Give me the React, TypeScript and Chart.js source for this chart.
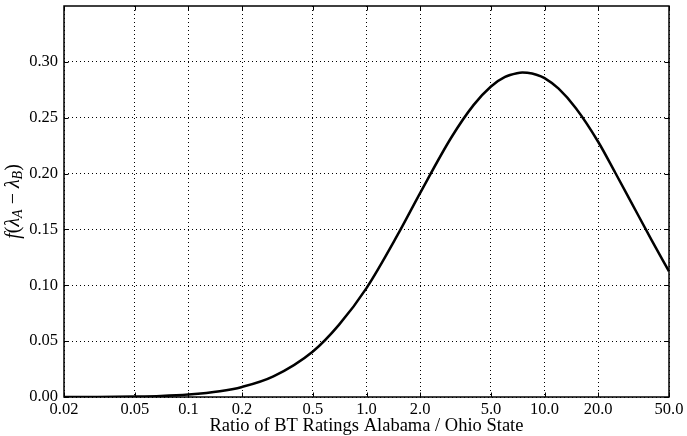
import React, { useEffect, useRef } from "react";
import { Chart, registerables } from "chart.js";

Chart.register(...registerables);

const ratioValues = [0.02, 0.03, 0.05, 0.07, 0.1, 0.15, 0.2, 0.3, 0.5, 0.7, 1.0, 1.5, 2.0, 3.0, 4.0, 5.0, 6.0, 7.0, 7.5, 8.0, 9.0, 10.0, 12.0, 15.0, 20.0, 25.0, 30.0, 40.0, 50.0];
const densityValues = [0.00003, 0.0001, 0.0004, 0.0009, 0.0022, 0.0051, 0.009, 0.0185, 0.0408, 0.0646, 0.0975, 0.1455, 0.1825, 0.2325, 0.2615, 0.278, 0.2865, 0.2898, 0.2904, 0.2902, 0.2885, 0.2855, 0.276, 0.2585, 0.2285, 0.2005, 0.1772, 0.1402, 0.1125];

const xTickValues = [0.02, 0.05, 0.1, 0.2, 0.5, 1.0, 2.0, 5.0, 10.0, 20.0, 50.0];
const xTickLabels = ["0.02", "0.05", "0.1", "0.2", "0.5", "1.0", "2.0", "5.0", "10.0", "20.0", "50.0"];
const yTickValues = [0.0, 0.05, 0.1, 0.15, 0.2, 0.25, 0.3];
const yTickLabels = ["0.00", "0.05", "0.10", "0.15", "0.20", "0.25", "0.30"];

const xTitle = "Ratio of BT Ratings Alabama / Ohio State";

const FONT = "'Liberation Serif', 'DejaVu Serif', serif";

const framePlugin = {
  id: "framePlugin",
  afterDraw(chart: any) {
    const { ctx, chartArea } = chart;
    const { left, right, top, bottom } = chartArea;
    const xs = chart.scales.x;
    const ys = chart.scales.y;
    ctx.save();
    ctx.strokeStyle = "#000";
    ctx.lineWidth = 1;
    const tl = 4.5;
    ctx.beginPath();
    xTickValues.forEach((v) => {
      const px = Math.round(xs.getPixelForValue(v)) + 0.5;
      ctx.moveTo(px, bottom);
      ctx.lineTo(px, bottom - tl);
      ctx.moveTo(px, top);
      ctx.lineTo(px, top + tl);
    });
    yTickValues.forEach((v) => {
      const py = Math.round(ys.getPixelForValue(v)) + 0.5;
      ctx.moveTo(left, py);
      ctx.lineTo(left + tl, py);
      ctx.moveTo(right, py);
      ctx.lineTo(right - tl, py);
    });
    ctx.stroke();
    ctx.lineWidth = 1.5;
    ctx.strokeRect(left, top, right - left, bottom - top);

    // y axis label
    const segs = [
      { t: "f", it: true, sub: false },
      { t: "(", it: false, sub: false },
      { t: "λ", it: true, sub: false },
      { t: "A", it: true, sub: true },
      { t: " − ", it: false, sub: false },
      { t: "λ", it: true, sub: false },
      { t: "B", it: true, sub: true },
      { t: ")", it: false, sub: false },
    ];
    const size = 20;
    const subSize = 14;
    const fontFor = (s: any) => `${s.it ? "italic " : ""}${s.sub ? subSize : size}px ${FONT}`;
    let total = 0;
    const widths = segs.map((s) => {
      ctx.font = fontFor(s);
      const w = ctx.measureText(s.t).width;
      total += w;
      return w;
    });
    const cy = (top + bottom) / 2;
    ctx.translate(19, cy);
    ctx.rotate(-Math.PI / 2);
    ctx.fillStyle = "#000";
    ctx.textBaseline = "alphabetic";
    ctx.textAlign = "left";
    let x = -total / 2;
    segs.forEach((s, i) => {
      ctx.font = fontFor(s);
      ctx.fillText(s.t, x, s.sub ? 3 : 0);
      x += widths[i];
    });
    ctx.restore();
  },
};

export default function App() {
  const ref = useRef<HTMLCanvasElement | null>(null);
  useEffect(() => {
    document.body.style.margin = "0";
    const canvas = ref.current;
    if (!canvas) return;
    const chart = new Chart(canvas, {
      type: "line",
      data: {
        datasets: [
          {
            data: ratioValues.map((x, i) => ({ x, y: densityValues[i] })),
            borderColor: "#000",
            borderWidth: 2.5,
            pointRadius: 0,
            fill: false,
            cubicInterpolationMode: "monotone",
          },
        ],
      },
      options: {
        animation: false,
        responsive: false,
        devicePixelRatio: 1,
        layout: { padding: { top: 6, right: 18, left: 0, bottom: 0 } },
        plugins: { legend: { display: false }, tooltip: { enabled: false } },
        scales: {
          x: {
            type: "logarithmic",
            min: 0.02,
            max: 50,
            afterBuildTicks: (scale: any) => {
              scale.ticks = xTickValues.map((v) => ({ value: v }));
            },
            afterFit: (scale: any) => {
              scale.height = 39;
              scale.paddingLeft = 0;
              scale.paddingRight = 0;
            },
            ticks: {
              autoSkip: false,
              maxRotation: 0,
              padding: 3,
              color: "#000",
              font: { family: FONT, size: 16.5 },
              callback: (_v: any, i: number) => xTickLabels[i],
            },
            grid: {
              color: "#000",
              lineWidth: 1,
              drawTicks: false,
              tickLength: 0,
            },
            border: { display: false, dash: [1, 3] },
            title: {
              display: true,
              text: xTitle,
              color: "#000",
              font: { family: FONT, size: 18.5 },
              padding: { top: 0, bottom: -1.5 },
            },
          },
          y: {
            type: "linear",
            min: 0,
            max: 0.35,
            afterBuildTicks: (scale: any) => {
              scale.ticks = yTickValues.map((v) => ({ value: v }));
            },
            afterFit: (scale: any) => {
              scale.width = 64;
              scale.paddingTop = 0;
              scale.paddingBottom = 0;
            },
            ticks: {
              padding: 6,
              color: "#000",
              font: { family: FONT, size: 16.5 },
              callback: (_v: any, i: number) => yTickLabels[i],
            },
            grid: {
              color: "#000",
              lineWidth: 1,
              drawTicks: false,
              tickLength: 0,
            },
            border: { display: false, dash: [1, 3] },
          },
        },
      } as any,
      plugins: [framePlugin],
    });
    return () => chart.destroy();
  }, []);
  return (
    <div style={{ position: "absolute", left: 0, top: 0, width: 687, height: 436 }}>
      <canvas ref={ref} width={687} height={436} />
    </div>
  );
}
